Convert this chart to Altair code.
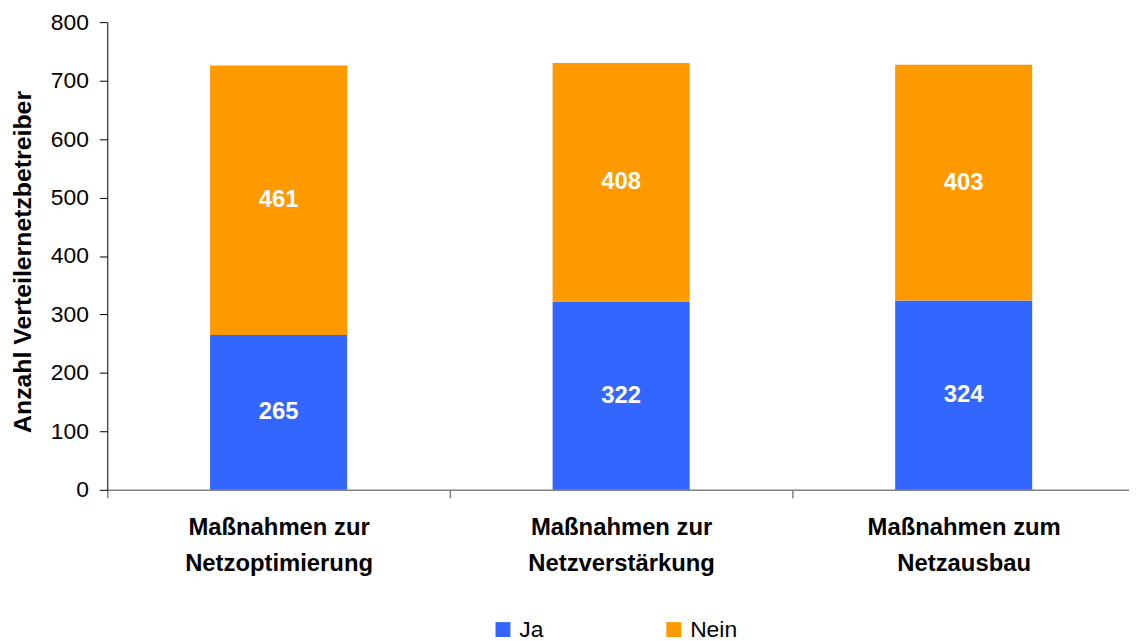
import altair as alt
import pandas as pd

categories = [
    "Maßnahmen zur Netzoptimierung",
    "Maßnahmen zur Netzverstärkung",
    "Maßnahmen zum Netzausbau",
]
ja_values = [265, 322, 324]
nein_values = [461, 408, 403]
series = ["Ja", "Nein"]
colors = ["#3366FF", "#FF9900"]
y_ticks = [0, 100, 200, 300, 400, 500, 600, 700, 800]

rows = []
for i, (c, j, n) in enumerate(zip(categories, ja_values, nein_values)):
    rows.append({"cat": c, "idx": i, "series": "Ja", "value": j, "order": 0})
    rows.append({"cat": c, "idx": i, "series": "Nein", "value": n, "order": 1})
df = pd.DataFrame(rows)

FONT = "Liberation Sans"
PLOT_W = 1029
STEP = 345  # pixels per category slot

# label expression: category names broken before "Netz", placed at slot centres
def two_lines(name):
    k = name.index(" Netz")
    return "['%s', '%s']" % (name[:k], name[k + 1:])

label_expr = " : ".join(
    "datum.value == %s ? %s" % (i + 0.5, two_lines(c)) for i, c in enumerate(categories)
) + " : ''"

x_scale = alt.Scale(domain=[0, PLOT_W / STEP], nice=False, zero=False)
x_ticks = [0, 0.5, 1, 1.5, 2, 2.5]

base = (
    alt.Chart(df)
    .transform_stack(
        stack="value",
        groupby=["cat"],
        as_=["y0", "y1"],
        sort=[alt.SortField("order", order="ascending")],
    )
    .transform_calculate(
        mid="(datum.y0 + datum.y1) / 2",
        xl="datum.idx + 0.3",
        xr="datum.idx + 0.7",
        xc="datum.idx + 0.5",
    )
)

x_axis = alt.Axis(
    title=None,
    values=x_ticks,
    labelAngle=0,
    domainColor="#808080",
    domainWidth=1.5,
    tickColor="#808080",
    tickWidth=1.5,
    tickSize=8,
    tickOpacity={"condition": {"test": "datum.value % 1 != 0", "value": 0}, "value": 1},
    labelFont=FONT,
    labelFontSize=24,
    labelFontWeight="bold",
    labelColor="#000000",
    labelPadding=18,
    labelBaseline="top",
    labelLineHeight=36,
    labelLimit=400,
    labelOverlap=False,
    labelFlush=False,
    labelBound=False,
    labelExpr=label_expr,
    grid=False,
)

bars = base.mark_bar().encode(
    x=alt.X("xl:Q", scale=x_scale, axis=x_axis),
    x2="xr:Q",
    y=alt.Y(
        "y0:Q",
        scale=alt.Scale(domain=[0, 800], nice=False),
        axis=alt.Axis(
            values=y_ticks,
            title="Anzahl Verteilernetzbetreiber",
            titleFont=FONT,
            titleFontSize=25,
            titleFontWeight="bold",
            titleColor="#000000",
            titleAngle=-90,
            titleX=-77,
            titleY=241,
            titleAlign="center",
            titleBaseline="alphabetic",
            domainColor="#000000",
            tickColor="#000000",
            tickSize=8,
            labelFont=FONT,
            labelFontSize=23,
            labelColor="#000000",
            labelPadding=11,
            grid=False,
        ),
    ),
    y2="y1:Q",
    color=alt.Color(
        "series:N",
        scale=alt.Scale(domain=series, range=colors),
        legend=alt.Legend(
            title=None,
            orient="none",
            direction="horizontal",
            legendX=387,
            legendY=600,
            symbolType="square",
            symbolSize=225,
            symbolStrokeWidth=0,
            symbolOpacity=1,
            labelFont=FONT,
            labelFontSize=23,
            labelColor="#000000",
            labelOffset=5,
            columnPadding=119,
        ),
    ),
    order=alt.Order("order:Q"),
)

labels = base.mark_text(
    color="white", fontWeight="bold", fontSize=24, font=FONT, baseline="middle"
).encode(
    x=alt.X("xc:Q", scale=x_scale),
    y=alt.Y("mid:Q"),
    text=alt.Text("value:Q"),
)

chart = (
    alt.layer(bars, labels)
    .properties(
        width=PLOT_W,
        height=471,
        background="white",
        autosize=alt.AutoSizeParams(type="none"),
        padding={"left": 100, "top": 12, "right": 0, "bottom": 150},
    )
    .configure_view(strokeWidth=0, stroke="transparent")
)

chart.save("out.html", embed_options={"renderer": "svg", "actions": False})
